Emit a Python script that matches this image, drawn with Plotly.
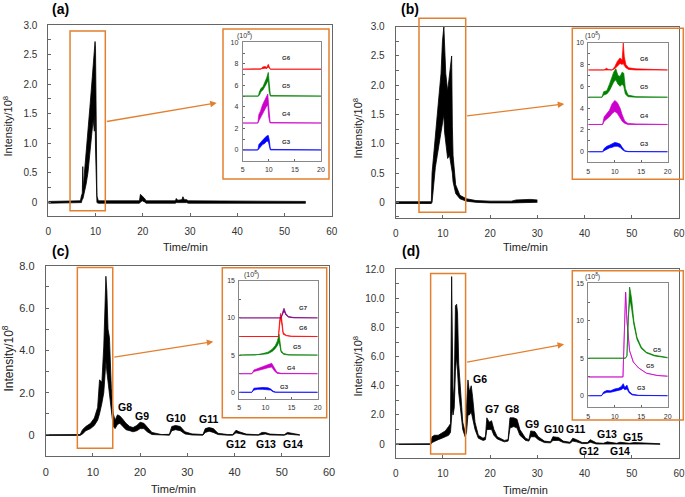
import plotly.graph_objects as go

W, H = 685, 497

# ---------------- data (time in min, intensity in 1e8) ----------------
A_T  = [0, 6.8, 7.0, 7.2, 7.3, 7.4, 7.6, 8.0, 8.4, 8.8, 9.2, 9.5, 9.75, 9.9, 10.0, 10.1, 10.3, 10.6,
        19.3, 19.5, 19.9, 20.4, 20.7, 26.9, 27.1, 27.4, 28.3, 28.5, 28.8, 29.3, 29.6, 54.5]
A_HI = [0.01, 0.02, 0.1, 0.15, 0.6, 0.2, 0.45, 0.8, 1.2, 1.6, 2.0, 2.35, 2.65, 2.72, 2.6, 1.4, 0.1, 0.02,
        0.02, 0.13, 0.1, 0.06, 0.02, 0.02, 0.06, 0.03, 0.04, 0.09, 0.04, 0.04, 0.02, 0.01]
A_LO = [-0.02, -0.02, -0.01, 0.05, 0.05, 0.08, 0.15, 0.3, 0.5, 0.8, 1.1, 1.4, 1.2, 1.5, 0.9, 0.3, -0.01, -0.02,
        -0.02, 0.0, 0.02, 0.0, -0.02, -0.02, -0.01, -0.01, -0.01, 0.0, -0.01, -0.01, -0.02, -0.02]

B_T  = [0, 7.55, 7.7, 8.0, 8.4, 8.8, 9.2, 9.6, 9.9, 10.2, 10.35, 10.6, 11.0, 11.4, 11.85, 12.0, 12.15,
        12.7, 13.6, 15.0, 17, 20, 24.5, 25.5, 27, 28.5, 30.0]
B_HI = [0.01, 0.01, 0.5, 0.8, 1.15, 1.5, 1.85, 2.2, 2.75, 3.0, 2.6, 2.2, 1.9, 2.2, 2.5, 1.3, 0.8,
        0.3, 0.12, 0.06, 0.03, 0.02, 0.02, 0.04, 0.05, 0.05, 0.04]
B_LO = [-0.02, -0.02, 0.0, 0.3, 0.6, 0.8, 1.0, 1.2, 1.4, 1.5, 1.2, 1.0, 0.75, 0.8, 0.6, 0.5, 0.35,
        0.15, 0.06, 0.02, 0.0, -0.01, -0.01, -0.01, -0.01, -0.01, 0.0]

C_T  = [0, 7.3, 7.8, 8.5, 9.5, 10.3, 11.0, 11.4, 11.9, 12.3, 12.55, 12.75, 12.95, 13.2, 13.5, 13.9, 14.3,
        14.7, 15.2, 15.7, 16.3, 17.0, 17.8, 18.5, 19.3, 20.0, 20.8, 21.5, 22.5, 24.5, 26.2, 26.7, 27.5,
        28.5, 29.5, 31, 33.3, 33.8, 34.6, 35.5, 36.5, 38.5, 39.6, 40.3, 41.0, 42.5, 45.0, 45.8, 46.5,
        47.5, 50.5, 51.2, 51.8, 53.8]
C_HI = [0.01, 0.02, 0.25, 0.4, 0.55, 0.8, 1.3, 2.6, 2.5, 4.2, 6.0, 7.5, 6.8, 5.0, 4.6, 2.2, 1.0,
        0.7, 0.95, 0.9, 0.75, 0.55, 0.4, 0.35, 0.45, 0.6, 0.55, 0.35, 0.12, 0.02, 0.03, 0.4, 0.45,
        0.4, 0.15, 0.05, 0.02, 0.3, 0.35, 0.3, 0.08, 0.02, 0.02, 0.22, 0.15, 0.04, 0.01, 0.12, 0.12,
        0.04, 0.01, 0.12, 0.1, 0.01]
C_LO = [-0.02, -0.02, 0.05, 0.2, 0.3, 0.45, 0.7, 1.0, 1.5, 2.0, 2.8, 3.5, 3.0, 2.5, 1.8, 1.0, 0.4,
        0.3, 0.5, 0.55, 0.4, 0.25, 0.2, 0.15, 0.2, 0.3, 0.3, 0.15, 0.02, -0.01, -0.01, 0.2, 0.25,
        0.2, 0.05, 0.0, -0.01, 0.12, 0.18, 0.12, 0.02, -0.01, -0.01, 0.1, 0.06, 0.0, -0.01, 0.04, 0.05,
        0.0, -0.01, 0.04, 0.03, -0.01]

D_T  = [0, 7.4, 7.7, 8.2, 9.0, 9.8, 10.5, 11.2, 11.6, 11.85, 12.0, 12.15, 12.4, 12.65, 12.9, 13.1,
        13.35, 13.7, 14.2, 14.7, 15.0, 15.3, 15.6, 16.0, 16.3, 16.8, 17.5, 18.5, 19.0, 19.3, 19.8,
        20.3, 20.8, 21.5, 23.0, 23.8, 24.2, 25.0, 25.7, 26.3, 27.5, 28.2, 28.6, 29.5, 30.2, 31.5,
        32.8, 33.3, 34.5, 35.5, 36.9, 37.5, 38.3, 39.5, 40.6, 41.2, 42.5, 44.0, 44.8, 45.8, 46.8,
        47.5, 49.5, 50.5, 53, 56]
D_HI = [0.01, 0.02, 0.5, 0.6, 0.6, 0.75, 0.9, 1.2, 1.4, 11.5, 8.0, 3.0, 4.0, 9.5, 9.6, 9.0,
        5.5, 3.5, 1.5, 0.8, 2.5, 4.4, 3.6, 4.0, 3.2, 1.5, 0.6, 0.4, 0.5, 1.8, 1.5,
        1.6, 1.0, 0.5, 0.25, 0.3, 1.8, 1.8, 1.7, 1.0, 0.4, 0.3, 0.9, 0.85, 0.5, 0.2,
        0.15, 0.5, 0.45, 0.2, 0.12, 0.4, 0.3, 0.1, 0.1, 0.3, 0.08, 0.05, 0.15, 0.1, 0.05,
        0.12, 0.05, 0.1, 0.05, 0.02]
D_LO = [-0.03, -0.03, 0.1, 0.2, 0.3, 0.4, 0.5, 0.6, 0.8, 2.0, 2.5, 2.0, 2.5, 5.0, 6.0, 5.0,
        3.5, 2.5, 1.0, 0.5, 0.8, 2.0, 2.0, 2.2, 1.8, 1.0, 0.4, 0.25, 0.3, 1.0, 1.0,
        1.0, 0.6, 0.35, 0.15, 0.2, 1.1, 1.2, 1.1, 0.6, 0.25, 0.2, 0.5, 0.5, 0.3, 0.1,
        0.08, 0.25, 0.25, 0.1, 0.05, 0.2, 0.15, 0.03, 0.03, 0.12, 0.0, 0.0, 0.04, 0.02, 0.0,
        0.03, 0.0, 0.02, 0.0, -0.02]

# peak labels in panels (c) and (d)
C_LAB   = ["G8", "G9", "G10", "G11", "G12", "G13", "G14"]
C_LAB_X = [16.8, 20.5, 27.5, 34.5, 40.4, 46.7, 52.3]
C_LAB_Y = [1.31, 0.9, 0.8, 0.75, -0.43, -0.43, -0.43]
D_LAB   = ["G6", "G7", "G8", "G9", "G10", "G11", "G12", "G13", "G14", "G15"]
D_LAB_X = [17.9, 20.3, 24.7, 28.8, 33.5, 38.0, 41.0, 44.8, 47.4, 50.3]
D_LAB_Y = [4.44, 2.38, 2.38, 1.35, 1.0, 1.0, -0.46, 0.67, -0.46, 0.5]

# ---- inset traces (absolute, already offset as in the picture) ----
IA = [
    ("G3", "#0000FF", [5, 7.9, 8.1, 8.4, 8.8, 9.2, 9.6, 9.9, 10.1, 10.3, 20],
     [0, 0, 0.5, 0.7, 0.9, 1.1, 1.3, 1.35, 0.9, 0.05, 0],
     [0, 0, 0.1, 0.3, 0.5, 0.6, 0.8, 0.8, 0.4, 0.0, 0]),
    ("G4", "#CC00CC", [5, 7.9, 8.1, 8.4, 8.8, 9.2, 9.5, 9.8, 10.0, 10.25, 20],
     [2.5, 2.5, 3.3, 3.6, 4.2, 4.6, 5.0, 5.2, 4.0, 2.55, 2.5],
     [2.5, 2.5, 2.7, 3.0, 3.4, 3.7, 4.0, 4.2, 3.0, 2.5, 2.5]),
    ("G5", "#008000", [5, 8.0, 8.2, 8.5, 8.9, 9.3, 9.6, 9.9, 10.05, 10.3, 20],
     [5, 5, 5.4, 5.7, 5.9, 6.3, 6.7, 7.2, 6.3, 5.05, 5],
     [5, 5, 5.1, 5.4, 5.6, 5.9, 6.2, 6.5, 5.5, 5.0, 5]),
    ("G6", "#FF0000", [5, 8.5, 8.8, 9.3, 9.6, 9.9, 10.1, 10.3, 20],
     [7.5, 7.5, 7.7, 7.75, 7.65, 7.95, 7.7, 7.5, 7.5],
     [7.5, 7.5, 7.55, 7.6, 7.55, 7.7, 7.55, 7.5, 7.5]),
]
IA_LAB_X = [13.3, 13.3, 13.3, 13.3]
IA_LAB_Y = [0.7, 3.3, 5.94, 8.5]

IB = [
    ("G3", "#0000FF", [5, 7.7, 8.0, 8.5, 9.0, 9.5, 10.0, 10.5, 11.0, 11.4, 11.9, 12.5, 20],
     [0, 0, 0.3, 0.5, 0.6, 0.7, 0.85, 0.8, 0.7, 0.4, 0.1, 0.02, 0],
     [0, 0, 0.1, 0.25, 0.35, 0.4, 0.5, 0.5, 0.4, 0.2, 0.05, 0, 0]),
    ("G4", "#CC00CC", [5, 7.7, 8.0, 8.5, 9.0, 9.5, 10.0, 10.5, 11.0, 11.4, 11.9, 12.5, 14, 20],
     [2.5, 2.5, 3.2, 3.5, 3.8, 4.4, 4.7, 4.5, 4.0, 3.4, 2.8, 2.6, 2.55, 2.5],
     [2.5, 2.5, 2.8, 3.0, 3.2, 3.5, 3.7, 3.5, 3.1, 2.8, 2.6, 2.5, 2.5, 2.5]),
    ("G5", "#008000", [5, 7.6, 7.9, 8.5, 9.0, 9.4, 9.8, 10.2, 10.6, 11.0, 11.4, 11.7, 12.0, 12.5, 14, 20],
     [5, 5, 5.5, 5.6, 6.2, 6.8, 7.3, 7.6, 7.0, 6.9, 7.3, 7.2, 5.8, 5.2, 5.05, 5],
     [5, 5, 5.2, 5.3, 5.6, 6.0, 6.4, 6.6, 6.2, 6.0, 6.2, 6.0, 5.3, 5.05, 5, 5]),
    ("G6", "#FF0000", [5, 8.0, 8.4, 8.8, 9.5, 10.0, 10.5, 11.0, 11.4, 11.6, 11.8, 12.1, 12.6, 14, 20],
     [7.5, 7.5, 7.65, 7.55, 7.5, 7.8, 8.3, 8.6, 8.4, 10.0, 8.7, 8.0, 7.7, 7.6, 7.5],
     [7.5, 7.5, 7.55, 7.5, 7.5, 7.6, 7.9, 8.1, 8.0, 8.1, 7.9, 7.7, 7.55, 7.5, 7.5]),
]
IB_LAB_X = [15.7, 15.7, 15.7, 15.7]
IB_LAB_Y = [0.7, 3.3, 5.9, 8.5]

IC = [
    ("G3", "#0000FF", [5, 7.4, 7.8, 8.5, 9.5, 10.5, 11.0, 11.5, 12.0, 20],
     [0, 0, 0.55, 0.6, 0.65, 0.6, 0.45, 0.15, 0.02, 0],
     [0, 0, 0.3, 0.4, 0.4, 0.4, 0.3, 0.05, 0, 0]),
    ("G4", "#CC00CC", [5, 7.4, 7.8, 8.5, 9.5, 10.5, 11.2, 11.7, 12.2, 13, 20],
     [2.5, 2.5, 3.0, 3.2, 3.5, 3.7, 3.9, 3.3, 2.7, 2.55, 2.5],
     [2.5, 2.5, 2.8, 2.9, 3.1, 3.3, 3.4, 2.9, 2.55, 2.5, 2.5]),
    ("G5", "#008000", [5, 8.0, 9.5, 10.5, 11.3, 11.9, 12.3, 12.6, 12.75, 13.0, 13.5, 14.5, 20],
     [5, 5, 5.2, 5.4, 5.8, 6.3, 6.9, 7.8, 7.0, 5.6, 5.2, 5.05, 5],
     [5, 5, 5.1, 5.2, 5.5, 5.9, 6.3, 6.8, 6.0, 5.4, 5.1, 5.0, 5]),
    ("G6", "#FF0000", [5, 12.5, 12.7, 12.9, 13.1, 13.4, 14.0, 15, 20],
     [7.5, 7.5, 9.5, 10.6, 10.0, 8.0, 7.65, 7.55, 7.5],
     [7.5, 7.5, 9.0, 10.0, 9.3, 7.8, 7.6, 7.5, 7.5]),
    ("G7", "#800080", [5, 13.0, 13.3, 13.55, 13.9, 14.4, 15.5, 20],
     [10, 10, 10.8, 11.3, 10.6, 10.2, 10.05, 10],
     [10, 10, 10.5, 10.9, 10.4, 10.1, 10, 10]),
]
IC_LAB_X = [13.7, 15.0, 16.1, 17.2, 17.2]
IC_LAB_Y = [0.75, 3.3, 6.1, 8.7, 11.3]

ID = [
    ("G3", "#0000FF", [5, 7.5, 7.9, 8.5, 9.2, 10.0, 10.7, 11.2, 11.6, 11.9, 12.3, 12.7, 13.3, 14.5, 20],
     [0, 0, 0.5, 0.7, 0.65, 0.9, 1.0, 1.2, 1.6, 1.1, 1.4, 0.6, 0.2, 0.05, 0],
     [0, 0, 0.3, 0.45, 0.45, 0.6, 0.7, 0.8, 1.0, 0.8, 0.9, 0.4, 0.1, 0.02, 0]),
    ("G5", "#CC00CC", [5, 11.55, 11.7, 11.9, 12.05, 12.3, 12.8, 13.5, 14.5, 16, 18, 20],
     [2.5, 2.5, 6, 12, 13.8, 10, 6.0, 4.5, 3.7, 3.0, 2.7, 2.6],
     [2.5, 2.5, 6, 12, 13.8, 10, 6.0, 4.5, 3.7, 3.0, 2.7, 2.6]),
    ("G5", "#008000", [5, 12.0, 12.3, 12.55, 12.8, 12.95, 13.2, 13.6, 14.2, 15.0, 16, 17.5, 20],
     [5, 5, 5.3, 11.5, 14.5, 14.0, 12.8, 10.0, 7.8, 6.5, 5.8, 5.4, 5.1],
     [5, 5, 5.3, 10.5, 12.5, 12.5, 11.5, 9.5, 7.5, 6.3, 5.7, 5.3, 5.05]),
]
ID_LAB_X = [15.1, 16.7, 18.0]
ID_LAB_Y = [1.07, 4.0, 6.1]

MAIN_X_TICKS = [0, 10, 20, 30, 40, 50, 60]
AB_Y_TICKS = [0, 0.5, 1.0, 1.5, 2.0, 2.5, 3.0]
AB_Y_TEXT = ["0", "0.5", "1.0", "1.5", "2.0", "2.5", "3.0"]
C_Y_TICKS = [0, 2, 4, 6, 8]
C_Y_TEXT = ["0", "2.0", "4.0", "6.0", "8.0"]
D_Y_TICKS = [0, 2, 4, 6, 8, 10, 12]
D_Y_TEXT = ["0", "2.0", "4.0", "6.0", "8.0", "10.0", "12.0"]
INS_X_TICKS = [5, 10, 15, 20]
INS_Y_TICKS_AB = [0, 2, 4, 6, 8, 10]
INS_Y_TICKS_CD = [0, 5, 10, 15]

# ---------------- layout helpers ----------------
FONT = "Arial, Liberation Sans, sans-serif"
ORANGE = "#E3802F"
FRAME = "#666666"


def px(xp):
    return xp / W


def py(yp):
    return 1 - yp / H


fig = go.Figure()


def band(t, hi, lo, color, xa, ya, width=0.8):
    fig.add_trace(go.Scatter(x=t, y=lo, mode="lines", line=dict(color=color, width=width),
                             xaxis=xa, yaxis=ya, hoverinfo="skip", showlegend=False))
    fig.add_trace(go.Scatter(x=t, y=hi, mode="lines", line=dict(color=color, width=width),
                             fill="tonexty", fillcolor=color,
                             xaxis=xa, yaxis=ya, hoverinfo="skip", showlegend=False))


# main panels: (name, xaxis id, x-pixels, y-pixels, y-range)
panels = [
    ("a", 1, (48.3, 331.7), (25.0, 216.0), (-0.237, 3.0)),
    ("b", 2, (395.7, 679.0), (26.7, 218.3), (-0.273, 3.0)),
    ("c", 3, (45.7, 329.0), (265.7, 455.7), (-0.98, 8.0)),
    ("d", 4, (395.7, 679.0), (269.3, 458.3), (-0.98, 12.0)),
]
insets = [
    (5, (242.7, 321.0), (42.3, 160.7), (-1.0, 10.0), INS_Y_TICKS_AB, 1),
    (6, (588.3, 667.7), (42.7, 162.3), (-0.97, 10.0), INS_Y_TICKS_AB, 1),
    (7, (239.3, 317.7), (280.7, 399.0), (-0.9, 15.0), INS_Y_TICKS_CD, 2.5),
    (8, (588.3, 667.7), (283.3, 407.3), (-1.55, 15.0), INS_Y_TICKS_CD, 2.5),
]

layout = dict(width=W, height=H, margin=dict(l=0, r=0, t=0, b=0, pad=0, autoexpand=False),
              paper_bgcolor="white", plot_bgcolor="rgba(0,0,0,0)",
              font=dict(family=FONT, color="#222"), showlegend=False)

ytick_sets = {"a": (AB_Y_TICKS, AB_Y_TEXT, 0.25), "b": (AB_Y_TICKS, AB_Y_TEXT, 0.25),
              "c": (C_Y_TICKS, C_Y_TEXT, 1), "d": (D_Y_TICKS, D_Y_TEXT, 1)}

for name, i, xpx, ypx, yr in panels:
    sfx = "" if i == 1 else str(i)
    tv, tt, mdt = ytick_sets[name]
    fs = 11 if name == "c" else 10
    layout["xaxis" + sfx] = dict(domain=[px(xpx[0]), px(xpx[1])], range=[0, 60], anchor="y" + sfx,
                                 tickvals=MAIN_X_TICKS, ticks="inside", ticklen=3, tickcolor=FRAME,
                                 showline=True, mirror=True, linecolor=FRAME, linewidth=1,
                                 showgrid=False, zeroline=False, ticklabelstandoff=6, automargin=False,
                                 tickfont=dict(size=fs, color="#333"))
    layout["yaxis" + sfx] = dict(domain=[py(ypx[1]), py(ypx[0])], range=list(yr), anchor="x" + sfx,
                                 tickvals=tv, ticktext=tt, ticks="inside", ticklen=3, tickcolor=FRAME,
                                 minor=dict(dtick=mdt, tick0=0, ticks="inside", ticklen=3, tickcolor=FRAME),
                                 showline=True, mirror=True, linecolor=FRAME, linewidth=1,
                                 showgrid=False, zeroline=False, ticklabelstandoff=8, automargin=False,
                                 tickfont=dict(size=fs, color="#333"))

for i, xpx, ypx, yr, ytv, mdt in insets:
    sfx = str(i)
    layout["xaxis" + sfx] = dict(domain=[px(xpx[0]), px(xpx[1])], range=[5, 20], anchor="y" + sfx,
                                 tickvals=INS_X_TICKS, ticks="inside", ticklen=2, tickcolor=FRAME,
                                 showline=True, mirror=True, linecolor="#888", linewidth=0.8,
                                 showgrid=False, zeroline=False, ticklabelstandoff=2, automargin=False,
                                 tickfont=dict(size=7, color="#333"))
    layout["yaxis" + sfx] = dict(domain=[py(ypx[1]), py(ypx[0])], range=list(yr), anchor="x" + sfx,
                                 tickvals=ytv, ticks="inside", ticklen=2, tickcolor=FRAME,
                                 minor=dict(dtick=mdt, tick0=0, ticks="inside", ticklen=2, tickcolor=FRAME),
                                 showline=True, mirror=True, linecolor="#888", linewidth=0.8,
                                 showgrid=False, zeroline=False, ticklabelstandoff=2, automargin=False,
                                 tickfont=dict(size=7, color="#333"))

fig.update_layout(**layout)

# main traces
band(A_T, A_HI, A_LO, "black", "x", "y")
band(B_T, B_HI, B_LO, "black", "x2", "y2")
band(C_T, C_HI, C_LO, "black", "x3", "y3")
band(D_T, D_HI, D_LO, "black", "x4", "y4")

CEN = dict(xanchor="center", yanchor="middle", showarrow=False)

# inset traces + labels
ann = []
for tr_list, labx, laby, i in [(IA, IA_LAB_X, IA_LAB_Y, 5), (IB, IB_LAB_X, IB_LAB_Y, 6),
                               (IC, IC_LAB_X, IC_LAB_Y, 7), (ID, ID_LAB_X, ID_LAB_Y, 8)]:
    for (lab, col, t, hi, lo), lx, ly in zip(tr_list, labx, laby):
        band(t, hi, lo, col, "x%d" % i, "y%d" % i, width=0.7)
        ann.append(dict(x=lx, y=ly, xref="x%d" % i, yref="y%d" % i, text="<b>%s</b>" % lab,
                        font=dict(size=6, color="#333"), **CEN))

# peak labels
for labs, xs, ys, i in [(C_LAB, C_LAB_X, C_LAB_Y, 3), (D_LAB, D_LAB_X, D_LAB_Y, 4)]:
    for lab, lx, ly in zip(labs, xs, ys):
        ann.append(dict(x=lx, y=ly, xref="x%d" % i, yref="y%d" % i, text="<b>%s</b>" % lab,
                        font=dict(size=10.5, color="black"), **CEN))

# panel titles, axis titles
for txt, cx, cy in [("(a)", 60, 9.5), ("(b)", 409.7, 9.5), ("(c)", 60, 251), ("(d)", 411, 251)]:
    ann.append(dict(x=px(cx), y=py(cy), xref="paper", yref="paper", text="<b>%s</b>" % txt,
                    font=dict(size=14, color="black"), **CEN))
for cx, cy in [(185, 247), (525, 247), (174, 488.5), (525, 490)]:
    ann.append(dict(x=px(cx), y=py(cy), xref="paper", yref="paper", text="Time/min",
                    font=dict(size=11, color="#222"), **CEN))
for cx, cy, fs in [(7.5, 126, 11), (357.5, 128, 11), (7.5, 359, 12), (357.5, 366, 11)]:
    ann.append(dict(x=px(cx), y=py(cy), xref="paper", yref="paper", text="Intensity/10<sup>8</sup>",
                    textangle=-90, font=dict(size=fs, color="#222"), **CEN))
for cx, cy in [(244, 35), (592, 35.7), (251, 274.3), (592, 276)]:
    ann.append(dict(x=px(cx), y=py(cy), xref="paper", yref="paper", text="(10<sup>8</sup>)",
                    font=dict(size=7, color="#333"), **CEN))

# arrows from zoom boxes to insets
for i, (sx, sy), (ex, ey) in [(1, (12.07, 1.36), (35.65, 1.68)), (2, (14.8, 1.475), (35.7, 1.68)),
                              (3, (14.2, 3.67), (35.5, 4.41)), (4, (14.8, 5.61), (35.66, 6.85))]:
    sfx = "" if i == 1 else str(i)
    ann.append(dict(x=ex, y=ey, ax=sx, ay=sy, xref="x" + sfx, yref="y" + sfx,
                    axref="x" + sfx, ayref="y" + sfx, text="", showarrow=True,
                    arrowhead=2, arrowsize=1, arrowwidth=1.3, arrowcolor=ORANGE))
fig.update_layout(annotations=ann)

shapes = []
# zoom boxes
shapes.append(dict(type="rect", xref="x", yref="y", x0=4.6, x1=12.07, y0=-0.147, y1=2.90,
                   line=dict(color=ORANGE, width=1.5)))
shapes.append(dict(type="rect", xref="paper", yref="paper", x0=px(419), x1=px(465.7),
                   y0=py(212.3), y1=py(18.3), line=dict(color=ORANGE, width=1.5)))
shapes.append(dict(type="rect", xref="x3", yref="y3", x0=6.7, x1=14.2, y0=-0.63, y1=7.92,
                   line=dict(color=ORANGE, width=1.5)))
shapes.append(dict(type="rect", xref="x4", yref="y4", x0=7.4, x1=14.8, y0=-0.69, y1=11.72,
                   line=dict(color=ORANGE, width=1.5)))
# inset frames
for x0, x1, y0, y1 in [(223, 329, 29, 179), (572.3, 683.3, 28.3, 179.3),
                       (222.3, 326.7, 267.7, 417.7), (572.3, 683.3, 270.7, 420)]:
    shapes.append(dict(type="rect", xref="paper", yref="paper", x0=px(x0), x1=px(x1),
                       y0=py(y1), y1=py(y0), line=dict(color=ORANGE, width=1.5)))
fig.update_layout(shapes=shapes)

fig.write_html("out.html", config={"displayModeBar": False},
               post_script="document.body.style.margin='0';document.body.style.overflow='hidden';")
